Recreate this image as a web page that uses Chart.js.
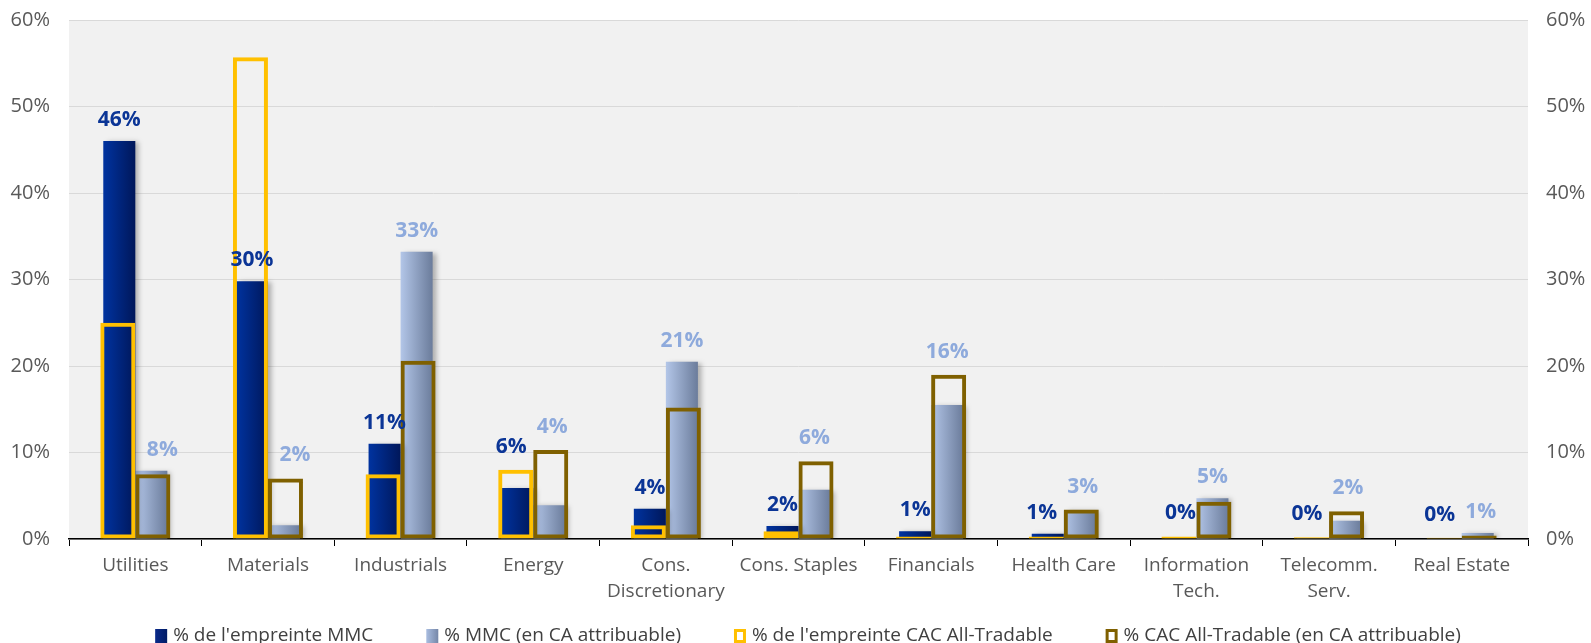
<!DOCTYPE html>
<html>
<head>
<meta charset="utf-8">
<script src="https://cdn.jsdelivr.net/npm/chart.js@4.4.1/dist/chart.umd.min.js"></script>
<style>
  html, body { margin: 0; padding: 0; background: #fff; }
  #wrap { width: 1591px; height: 643px; }
</style>
</head>
<body>
<div id="wrap"><canvas id="grafico"></canvas></div>
<script>
// categories
var categories = [
    'Utilities', 'Materials', 'Industrials', 'Energy', ['Cons.', 'Discretionary'],
    'Cons. Staples', 'Financials', 'Health Care', ['Information', 'Tech.'],
    ['Telecomm.', 'Serv.'], 'Real Estate'
];
// values in %
var empreinteMMC = [46, 29.8, 11, 5.9, 3.5, 1.5, 0.9, 0.6, 0.1, 0.1, 0.05];
var mmcCA        = [7.9, 1.6, 33.2, 3.9, 20.5, 5.7, 15.5, 3.3, 4.7, 2.1, 0.7];
var empreinteCAC = [25, 55.7, 7.5, 8, 1.6, 0.9, 0.3, 0.3, 0.3, 0.2, 0.15];
var cacCA        = [7.5, 7, 20.6, 10.3, 15.2, 9, 19, 3.4, 4.3, 3.2, 0.4];
// axis ticks
var yTicks = [0, 10, 20, 30, 40, 50, 60];

var FONT = "'Open Sans', 'Liberation Sans', sans-serif";
var CAT_PCT = 0.483;
var OUT_PCT = 0.528;

// horizontal gradient for each filled bar
function barGradient(c1, c2, slotIndex) {
    return function (context) {
        var chart = context.chart;
        var xs = chart.scales.x;
        if (!xs || context.type !== 'data' || !chart.chartArea) return c1;
        var catW = xs.width / categories.length;
        var slot = catW * CAT_PCT / 2;
        var center = xs.getPixelForValue(context.dataIndex);
        var left = slotIndex === 0 ? center - slot : center;
        var g = chart.ctx.createLinearGradient(left, 0, left + slot, 0);
        g.addColorStop(0, c1);
        g.addColorStop(1, c2);
        return g;
    };
}

// fond gris de la zone de tracé
var plotBg = {
    id: 'plotBg',
    beforeDraw: function (chart) {
        var a = chart.chartArea;
        var ctx = chart.ctx;
        ctx.save();
        ctx.fillStyle = '#f1f1f1';
        ctx.fillRect(a.left, a.top, a.right - a.left, a.bottom - a.top);
        ctx.restore();
    }
};

// ombre portée sur les barres pleines
var barShadow = {
    id: 'barShadow',
    beforeDatasetDraw: function (chart, args) {
        var ds = chart.data.datasets[args.index];
        if (!ds.shadow) return;
        var ctx = chart.ctx;
        ctx.save();
        ctx.shadowColor = 'rgba(0,0,0,0.28)';
        ctx.shadowOffsetX = 4;
        ctx.shadowOffsetY = 1;
        ctx.shadowBlur = 5;
    },
    afterDatasetDraw: function (chart, args) {
        var ds = chart.data.datasets[args.index];
        if (ds.shadow) chart.ctx.restore();
    }
};

// étiquettes de valeurs (au-dessus de la barre, ou du contour s'il est proche)
var valueLabels = {
    id: 'valueLabels',
    afterDatasetsDraw: function (chart) {
        var ctx = chart.ctx;
        var ys = chart.scales.y;
        var dsets = chart.data.datasets;
        var metaA = chart.getDatasetMeta(0), metaB = chart.getDatasetMeta(1);
        function baseline(di, oi, i) {
            var v = dsets[di].data[i], o = dsets[oi].data[i];
            var top = chart.getDatasetMeta(di).data[i].y;
            if (o > v && o - v < 10) top = ys.getPixelForValue(o) - 2;
            return top - 15;
        }
        ctx.save();
        ctx.font = 'bold 21px ' + FONT;
        ctx.textAlign = 'center';
        ctx.textBaseline = 'alphabetic';
        categories.forEach(function (c, i) {
            var ya = baseline(0, 2, i), yb = baseline(1, 3, i);
            var xa = metaA.data[i].x, xb = metaB.data[i].x;
            var topA = ys.getPixelForValue(Math.max(dsets[0].data[i], dsets[2].data[i]));
            if (topA < yb - 10) xb += 11;
            if (Math.abs(ya - yb) < 32) { xa -= 6; xb += 3; }
            ctx.fillStyle = dsets[0].labelColor;
            ctx.fillText(Math.round(dsets[0].data[i]) + '%', xa, ya);
            ctx.fillStyle = dsets[1].labelColor;
            ctx.fillText(Math.round(dsets[1].data[i]) + '%', xb, yb);
        });
        ctx.restore();
    }
};

// légende dessinée à la main (espacement large comme l'original)
var legendStyles = [
    { fill: ['#0a2a8a', '#001c66'], stroke: null },
    { fill: ['#a9bde0', '#7587a8'], stroke: null },
    { fill: null, stroke: '#ffc000' },
    { fill: null, stroke: '#7f6000' }
];
var customLegend = {
    id: 'customLegend',
    afterDraw: function (chart) {
        var ctx = chart.ctx;
        var y = 636, box = 12, gapText = 6, gapItem = 53;
        ctx.save();
        ctx.font = '19px ' + FONT;
        var widths = chart.data.datasets.map(function (ds) { return ctx.measureText(ds.label).width; });
        var total = widths.reduce(function (s, w) { return s + box + gapText + w; }, 0) + gapItem * (widths.length - 1);
        var x = 808 - total / 2;
        chart.data.datasets.forEach(function (ds, i) {
            var st = legendStyles[i];
            if (st.fill) {
                var g = ctx.createLinearGradient(x, 0, x + box, 0);
                g.addColorStop(0, st.fill[0]);
                g.addColorStop(1, st.fill[1]);
                ctx.fillStyle = g;
                ctx.fillRect(x, y - 7, box, 14);
            } else {
                ctx.strokeStyle = st.stroke;
                ctx.lineWidth = 3;
                ctx.strokeRect(x + 1.5, y - 5.5, box - 3, 11);
            }
            ctx.fillStyle = '#404040';
            ctx.textBaseline = 'middle';
            ctx.textAlign = 'left';
            ctx.fillText(ds.label, x + box + gapText, y);
            x += box + gapText + widths[i] + gapItem;
        });
        ctx.restore();
    }
};

var data = {
    labels: categories,
    datasets: [{
        label: "% de l'empreinte MMC",
        data: empreinteMMC,
        stack: 'a',
        order: 3,
        backgroundColor: barGradient('#0033a0', '#00175a', 0),
        borderWidth: 0,
        categoryPercentage: CAT_PCT,
        barPercentage: 1,
        shadow: true,
        labelColor: '#0b3596'
    }, {
        label: '% MMC (en CA attribuable)',
        data: mmcCA,
        stack: 'b',
        order: 4,
        backgroundColor: barGradient('#b3c6e8', '#6b7c9b', 1),
        borderWidth: 0,
        categoryPercentage: CAT_PCT,
        barPercentage: 1,
        shadow: true,
        labelColor: '#8eaadc'
    }, {
        label: "% de l'empreinte CAC All-Tradable",
        data: empreinteCAC,
        stack: 'a',
        order: 1,
        backgroundColor: 'rgba(0,0,0,0)',
        borderColor: '#ffc000',
        borderWidth: 4,
        borderSkipped: false,
        categoryPercentage: OUT_PCT,
        barPercentage: 1
    }, {
        label: '% CAC All-Tradable (en CA attribuable)',
        data: cacCA,
        stack: 'b',
        order: 2,
        backgroundColor: 'rgba(0,0,0,0)',
        borderColor: '#7f6000',
        borderWidth: 4,
        borderSkipped: false,
        categoryPercentage: OUT_PCT,
        barPercentage: 1
    }]
};

var pct = function (v) { return v + '%'; };
var noPad = function (scale) { scale.paddingTop = 0; scale.paddingBottom = 0; };

var options = {
    responsive: true,
    maintainAspectRatio: false,
    animation: false,
    layout: { padding: { top: 20, left: 0, right: 0, bottom: 0 } },
    plugins: {
        tooltip: { enabled: false },
        legend: { display: false }
    },
    scales: {
        x: {
            stacked: true,
            offset: true,
            grid: { drawOnChartArea: false, drawTicks: true, tickLength: 7, color: '#000', lineWidth: 1 },
            border: { display: true, color: '#000', width: 1.5 },
            ticks: {
                font: { family: FONT, size: 19, lineHeight: 1.39 },
                color: '#595959',
                padding: 6,
                maxRotation: 0,
                autoSkip: false
            },
            afterFit: function (scale) { scale.height = 104; }
        },
        y: {
            stacked: false,
            min: 0,
            max: 60,
            afterBuildTicks: function (scale) { scale.ticks = yTicks.map(function (v) { return { value: v }; }); },
            grid: { color: '#d9d9d9', lineWidth: 1, drawTicks: false },
            border: { display: false },
            ticks: { font: { family: FONT, size: 20 }, color: '#595959', padding: 19, callback: pct },
            afterFit: function (scale) { scale.width = 69; noPad(scale); }
        },
        y1: {
            position: 'right',
            min: 0,
            max: 60,
            afterBuildTicks: function (scale) { scale.ticks = yTicks.map(function (v) { return { value: v }; }); },
            grid: { drawOnChartArea: false, drawTicks: false },
            border: { display: false },
            ticks: { font: { family: FONT, size: 20 }, color: '#595959', padding: 18, callback: pct },
            afterFit: function (scale) { scale.width = 63; noPad(scale); }
        }
    }
};

var ctx = document.querySelector('#grafico');
var barChart = new Chart(ctx, {
    type: 'bar',
    data: data,
    options: options,
    plugins: [plotBg, barShadow, valueLabels, customLegend]
});
</script>
</body>
</html>
